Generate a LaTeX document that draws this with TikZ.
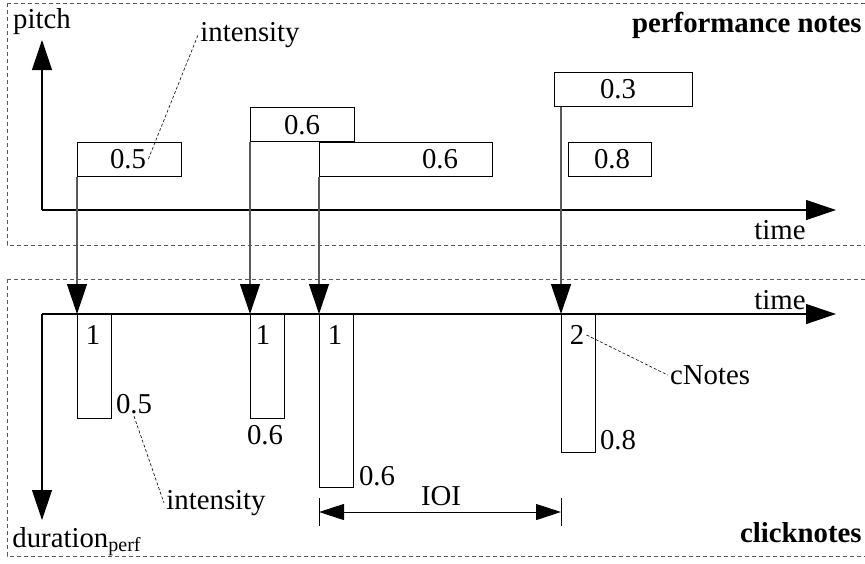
\documentclass[tikz,border=0pt]{standalone}
\usepackage{fontspec}
\setmainfont{Liberation Serif}
\usetikzlibrary{arrows.meta}

\begin{document}
\begin{tikzpicture}[x=0.5pt, y=-0.5pt,
  font=\fontsize{14.4}{17}\selectfont,
  lbl/.style={inner sep=1pt},
  frame/.style={gray!70!black, line width=0.4pt, dash pattern=on 2pt off 1.5pt},
  axis/.style={line width=0.6pt, -{Triangle[length=15pt,width=10pt]}},
  pnote/.style={draw, line width=0.5pt, anchor=north west, minimum height=17pt, inner sep=0pt},
  cnote/.style={draw, line width=0.5pt, anchor=north west, minimum width=17pt, inner sep=0pt},
  link/.style={gray!70!black, line width=0.6pt, -{Triangle[length=15pt,width=10pt,color=black]}},
  leader/.style={line width=0.3pt, dash pattern=on 1.5pt off 1pt}]
\useasboundingbox (0,0) rectangle (865,563);

% the two panels
\draw[frame] (7,3) rectangle (880,245);
\draw[frame] (7,279) rectangle (880,556);
\node[lbl, anchor=east, font=\fontsize{14.4}{17}\selectfont\bfseries] (perf) at (864,25) {performance notes};
\node[lbl, anchor=east, font=\fontsize{14.4}{17}\selectfont\bfseries] (click) at (864,533) {clicknotes};

% axes
\coordinate (o1) at (42,210);
\coordinate (pitchEnd) at (42,40);
\coordinate (timeEndA) at (836,210);
\draw[axis] (o1) -- (pitchEnd);
\draw[axis] (o1) -- (timeEndA);
\node[lbl] (pitch) at (42,22) {pitch};
\node[lbl] (timeA) at (780,230) {time};

\coordinate (o2) at (42,314);
\coordinate (timeEndB) at (836,314);
\coordinate (durEnd) at (42,520);
\draw[axis] (o2) -- (timeEndB);
\draw[axis] (o2) -- (durEnd);
\node[lbl] (timeB) at (780,300) {time};
\node[lbl, anchor=base west] (dur) at (10,547) {duration\textsubscript{perf}};

% performance notes
\node[pnote, minimum width=52pt] (p1) at (77,142) {};
\node[pnote, minimum width=52pt] (p2) at (250,107) {};
\node[pnote, minimum width=86.5pt] (p3) at (319,142) {};
\node[pnote, minimum width=69pt] (p4) at (554,72) {};
\node[pnote, minimum width=41.5pt] (p5) at (568,142) {};
\node[lbl] (pv1) at (128,159) {0.5};
\node[lbl] (pv2) at (302,125) {0.6};
\node[lbl] (pv3) at (440,159) {0.6};
\node[lbl] (pv4) at (618,89) {0.3};
\node[lbl] (pv5) at (612,159) {0.8};

\node[lbl] (intA) at (250,35) {intensity};
\draw[leader] (pv1.east) -- (intA.west);

% clicknotes
\node[cnote, minimum height=52pt] (c1) at (77,314) {};
\node[cnote, minimum height=52pt] (c2) at (250,314) {};
\node[cnote, minimum height=86.5pt] (c3) at (319,314) {};
\node[cnote, minimum height=69pt] (c4) at (561,314) {};
\node[lbl] (cn1) at (93,335) {1};
\node[lbl] (cn2) at (263,335) {1};
\node[lbl] (cn3) at (335,335) {1};
\node[lbl] (cn4) at (577,335) {2};
\node[lbl] (cv1) at (134,404) {0.5};
\node[lbl] (cv2) at (265,435) {0.6};
\node[lbl] (cv3) at (377,476) {0.6};
\node[lbl] (cv4) at (618,440) {0.8};

\draw[link] (p1.south west) -- (c1.north west);
\draw[link] (p2.south west) -- (c2.north west);
\draw[link] (p3.south west) -- (c3.north west);
\draw[link] (c4.north west |- p4.south) -- (c4.north west);

\node[lbl] (intB) at (216,503) {intensity};
\draw[leader] (cv1.south) -- (intB.west);
\node[lbl] (cnotes) at (710,375) {cNotes};
\draw[leader] (cn4.east) -- (cnotes.west);

% inter onset interval
\coordinate (ioiL) at (319,512);
\coordinate (ioiR) at (561,512);
\draw[line width=0.5pt] ([yshift=7pt]ioiL) -- ([yshift=-7pt]ioiL);
\draw[line width=0.5pt] ([yshift=7pt]ioiR) -- ([yshift=-7pt]ioiR);
\draw[line width=0.5pt, {Triangle[length=12.5pt,width=8pt]}-{Triangle[length=12.5pt,width=8pt]}] (ioiL) -- (ioiR);
\node[lbl] (ioi) at (441,496) {IOI};
\end{tikzpicture}
\end{document}
